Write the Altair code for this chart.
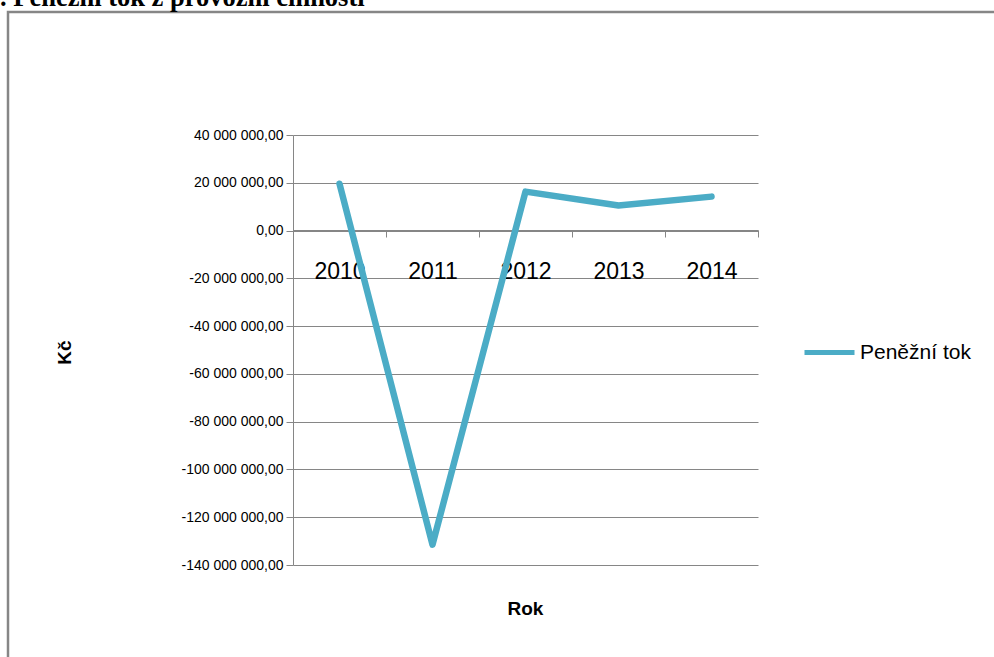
import altair as alt
import pandas as pd

years = ["2010", "2011", "2012", "2013", "2014"]
values = [19600000, -131500000, 16300000, 10500000, 14200000]
series_name = "Peněžní tok"
y_ticks = [40000000, 20000000, 0, -20000000, -40000000, -60000000,
           -80000000, -100000000, -120000000, -140000000]
title_text = ". Peněžní tok z provozní činnosti"

df = pd.DataFrame({"Rok": years, "Kč": values, "serie": [series_name] * len(years)})
one = pd.DataFrame({"a": [0]})

GRAY = "#868686"
LINE = "#4BACC6"

line = alt.Chart(df).mark_line(strokeWidth=6.5, strokeCap="round", strokeJoin="round").encode(
    x=alt.X("Rok:O",
            scale=alt.Scale(type="band", paddingInner=0, paddingOuter=0),
            axis=alt.Axis(title="Rok", labelAngle=0, offset=-335, tickBand="extent",
                          tickSize=7, tickColor=GRAY, domainColor=GRAY, grid=False,
                          labelFont="Liberation Sans", labelFontSize=23, labelColor="#000000",
                          labelPadding=23,
                          titleFont="Liberation Sans", titleFontSize=19, titleFontWeight="bold",
                          titleColor="#000000", titleX=232, titleY=378,
                          titleAlign="center", titleBaseline="middle")),
    y=alt.Y("Kč:Q",
            scale=alt.Scale(domain=[-140000000, 40000000], nice=False, zero=False),
            axis=alt.Axis(title="Kč", values=y_ticks, format=",.2f", tickSize=7,
                          tickColor=GRAY, domainColor=GRAY, gridColor=GRAY, grid=True,
                          labelFont="Liberation Sans", labelFontSize=14, labelColor="#000000",
                          labelPadding=3,
                          titleFont="Liberation Sans", titleFontSize=19, titleFontWeight="bold",
                          titleColor="#000000", titleAngle=270, titleX=-229, titleY=217,
                          titleAlign="center", titleBaseline="middle")),
    color=alt.Color("serie:N", scale=alt.Scale(range=[LINE]),
                    legend=alt.Legend(title=None, orient="none", legendX=509, legendY=190,
                                      symbolType="stroke", symbolSize=2500, symbolStrokeWidth=5,
                                      labelFont="Liberation Sans", labelFontSize=21,
                                      labelColor="#000000", labelOffset=3)),
)

frame = alt.Chart(one).mark_rect(fill=None, stroke=GRAY, strokeWidth=2.5).encode(
    x=alt.value(-285), x2=alt.value(720), y=alt.value(-123), y2=alt.value(540)
)

title = alt.Chart(one).mark_text(
    align="left", baseline="alphabetic", font="Liberation Serif", fontWeight="bold",
    fontSize=26.5, color="#000000"
).encode(x=alt.value(-293), y=alt.value(-129), text=alt.value(title_text))

chart = alt.layer(frame, title, line).properties(
    width=465, height=430,
    autosize=alt.AutoSizeParams(type="none"),
    padding={"left": 293, "top": 135, "right": 236, "bottom": 92},
).configure(
    view={"stroke": None},
    locale={"number": {"decimal": ",", "thousands": " ", "grouping": [3],
                       "currency": ["", ""], "minus": "-"}},
)

chart.save("out.html", embed_options={"renderer": "svg", "actions": False})
